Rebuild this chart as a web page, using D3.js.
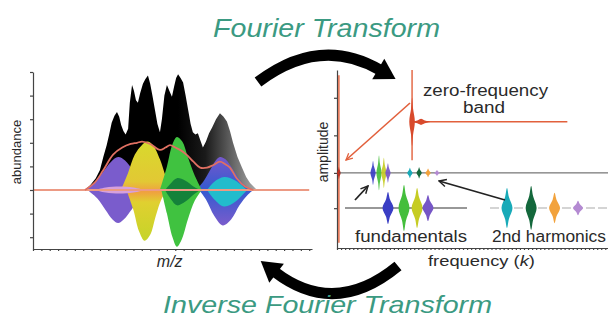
<!DOCTYPE html>
<html lang="en">
<head>
<meta charset="UTF-8">
<title>Fourier Transform</title>
<style>
  body { margin: 0; background: #fff; }
  svg { display: block; font-family: "Liberation Sans", Arial, sans-serif; }
</style>
</head>
<body>
<svg id="svg" width="608" height="318"></svg>
<script src="https://d3js.org/d3.v7.min.js"></script>
<script>
// ---- left panel: m/z spectrum, [m/z, abundance] (arbitrary units)
const envelopeBlack = [[18.6,0],[20.5,.04],[22.5,.1],[24,.17],[25.2,.28],[26.4,.38],[27.3,.47],[28.2,.57],[29.2,.63],[30.1,.66],[30.9,.62],[31.6,.55],[32.4,.5],[33.2,.47],[34.1,.52],[34.7,.74],[35.5,.89],[36.2,.84],[36.9,.76],[37.6,.74],[38.4,.82],[39.4,.9],[40.3,.94],[41.2,.97],[42,.9],[42.8,.8],[43.7,.68],[44.6,.56],[45.5,.49],[46.2,.6],[47.1,.8],[48,.89],[48.9,.84],[49.8,.79],[50.6,.88],[51.3,.95],[52,.98],[52.9,.95],[53.8,.91],[54.7,.8],[55.6,.68],[56.5,.56],[57.3,.49],[58.2,.47],[59.1,.48],[60,.42],[60.9,.36],[62,.41],[63.1,.48],[64.2,.53],[65.6,.6],[67,.65],[68.3,.62],[69.5,.58],[70.6,.5],[71.7,.4],[73.3,.28],[74.9,.19],[76.4,.11],[77.8,.06],[80.3,0]]
const envelopeSum = [[18.6,0],[22,.06],[25,.16],[28.7,.3],[32,.36],[35,.39],[37.3,.4],[39.1,.41],[42,.39],[45.5,.34],[47.5,.36],[49.1,.38],[51,.36],[52.7,.34],[55,.3],[57.5,.24],[59.9,.19],[62.4,.19],[64.5,.21],[67,.24],[68.8,.22],[70.6,.19],[73,.1],[76,.03],[79,0]]
const purpleTop = [[18.6,0],[22,.06],[25,.15],[28,.24],[30.5,.28],[33,.25],[36,.16],[39.5,.06],[42.7,0]]
const purpleBottom = [[19.5,0],[23,-.07],[26,-.17],[28.5,-.25],[30.5,-.28],[32.5,-.25],[35.5,-.16],[38.5,-.06],[41,0]]
const yellowTop = [[31.5,0],[34,.14],[36.5,.3],[39,.38],[41,.41],[43,.38],[45.5,.26],[47.5,.12],[49.5,0]]
const yellowBottom = [[33.5,0],[36,-.17],[38,-.35],[40,-.43],[42,-.38],[44,-.22],[46,-.08],[48,0]]
const greenTop = [[45.5,0],[48,.2],[50,.39],[51.6,.45],[53.5,.41],[55.5,.28],[58,.12],[60.5,0]]
const greenBottom = [[46,0],[48,-.2],[50,-.4],[51.6,-.48],[53.3,-.42],[55.5,-.25],[58,-.09],[60.5,0]]
const blueTop = [[58.5,0],[61,.07],[63.5,.17],[65.5,.25],[67,.28],[69,.26],[72,.16],[75,.06],[78.5,0]]
const blueBottom = [[59.5,0],[62,-.08],[65,-.22],[68,-.3],[71,-.25],[74,-.13],[77,-.04],[79,0]]
// inner cores: [m/z, upper, lower]
const purpleCore = [[22.2,0,0],[26,.022,-.022],[31,.03,-.03],[36,.022,-.022],[40.1,0,0]]
const greenCore = [[47.3,0,0],[49.5,.06,-.08],[51.6,.1,-.13],[54.5,.08,-.1],[57.5,.03,-.04],[59.9,0,0]]
const cyanCore = [[62.4,0,0],[65,.07,-.08],[68.5,.11,-.14],[72.5,.08,-.1],[76.7,0,0]]

// ---- right panel: frequency spectrum
const fundFreq = [13.3, 15.5, 17.3, 18.8]
const fundAmp = [0.16, 0.23, 0.20, 0.13]
const fundColors = ['#3a3ec4', '#44be3c', '#c6cc24', '#7656c6']
const harmFreq = [26.9, 30.3, 33.6, 36.9]
const harmAmp = [0.05, 0.055, 0.038, 0.018]
const harmColors = ['#18aab8', '#14683c', '#f2a23c', '#b48ad2']
const zeroFreq = 0.7
const bandFreq = 27.7

const teal = '#3b9a82'
const ink = '#2a2a2a'
const red = '#e2603c'

const svg = d3.select('#svg')
const defs = svg.append('defs')

// scales
const xM = d3.scaleLinear().domain([0, 100]).range([33, 312])
const yM = d3.scaleLinear().domain([-0.5, 1]).range([249, 72])
const xF = d3.scaleLinear().domain([0, 100]).range([337, 608])
const yA = d3.scaleLinear().domain([-1, 1.37]).range([248, 70])
// zoomed insets under the midline
const xFund = d3.scaleLinear().domain([13.3, 18.8]).range([388, 428])
const yFund = d3.scaleLinear().domain([-0.3, 0.3]).range([238, 178])
const xHarm = d3.scaleLinear().domain([26.9, 36.9]).range([507, 578])
const yHarm = d3.scaleLinear().domain([-0.06, 0.06]).range([232, 184])

// gradients
const gBlack = defs.append('linearGradient').attr('id', 'gBlack')
  .attr('gradientUnits', 'userSpaceOnUse').attr('x1', xM(52)).attr('x2', xM(80)).attr('y1', 0).attr('y2', 0)
;[[0, '#000'], [0.35, '#1a1a1a'], [0.6, '#505050'], [1, '#a8a8a8']].forEach(s =>
  gBlack.append('stop').attr('offset', s[0]).attr('stop-color', s[1]))
const gYellow = defs.append('linearGradient').attr('id', 'gYellow')
  .attr('gradientUnits', 'userSpaceOnUse').attr('x1', 0).attr('x2', 0).attr('y1', yM(0.42)).attr('y2', yM(-0.45))
;[[0, '#d8da2c'], [0.4, '#e2c834'], [0.5, '#f0a040'], [0.6, '#e0d030'], [1, '#c4d428']].forEach(s =>
  gYellow.append('stop').attr('offset', s[0]).attr('stop-color', s[1]))
const gBlue = defs.append('linearGradient').attr('id', 'gBlue')
  .attr('gradientUnits', 'userSpaceOnUse').attr('x1', 0).attr('x2', 0).attr('y1', yM(0.3)).attr('y2', yM(-0.3))
;[[0, '#7a58cc'], [0.45, '#3a5ad0'], [0.55, '#3a5ad0'], [1, '#7a5ccc']].forEach(s =>
  gBlue.append('stop').attr('offset', s[0]).attr('stop-color', s[1]))

// ---- left panel
const areaCore = d3.area().curve(d3.curveCatmullRom).x(d => xM(d[0])).y0(d => yM(d[2])).y1(d => yM(d[1]))
const smooth = d3.area().curve(d3.curveCatmullRom).x(d => xM(d[0])).y0(yM(0)).y1(d => yM(d[1]))

svg.append('path').attr('d', d3.area().x(d => xM(d[0])).y0(yM(0)).y1(d => yM(d[1]))(envelopeBlack))
  .attr('fill', 'url(#gBlack)')

const comps = [
  [purpleTop, purpleBottom, '#7a5ccc'],
  [yellowTop, yellowBottom, 'url(#gYellow)'],
  [blueTop, blueBottom, 'url(#gBlue)'],
  [greenTop, greenBottom, '#40c240']
]
comps.forEach(c => {
  svg.append('path').attr('d', smooth(c[0])).attr('fill', c[2])
  svg.append('path').attr('d', smooth(c[1])).attr('fill', c[2])
})
svg.append('path').attr('d', areaCore(purpleCore)).attr('fill', '#d6a0dc')
svg.append('path').attr('d', areaCore(greenCore)).attr('fill', '#14823a')
svg.append('path').attr('d', areaCore(cyanCore)).attr('fill', '#22bccc')

// baseline + summed envelope
svg.append('line').attr('x1', xM(0)).attr('x2', xM(99)).attr('y1', yM(0)).attr('y2', yM(0))
  .attr('stroke', '#ec9a84').attr('stroke-width', 2)
svg.append('path').attr('d', d3.line().curve(d3.curveCatmullRom).x(d => xM(d[0])).y(d => yM(d[1]))(envelopeSum))
  .attr('fill', 'none').attr('stroke', '#e07062').attr('stroke-width', 1.8)

// left axes
const axL = svg.append('g').attr('transform', `translate(${xM(0)},0)`)
  .call(d3.axisLeft(yM).tickValues(d3.range(-0.4, 1.01, 0.2)).tickSize(3).tickSizeOuter(0).tickFormat(''))
const axB = svg.append('g').attr('transform', `translate(0,${yM(-0.5)})`)
  .call(d3.axisBottom(xM).tickValues(d3.range(0, 101, 3)).tickSize(2).tickSizeOuter(0).tickFormat(''))
;[axL, axB].forEach(a => a.selectAll('path,line').attr('stroke', '#444').attr('stroke-width', 1.2))

svg.append('text').attr('transform', `translate(21,152) rotate(-90)`).attr('text-anchor', 'middle')
  .attr('font-size', 13).attr('fill', ink).text('abundance')
svg.append('text').attr('x', xM(49)).attr('y', 267).attr('text-anchor', 'middle')
  .attr('font-size', 16).attr('font-style', 'italic').attr('fill', ink).text('m/z')

// ---- right panel
const spindle = (cx, cy, hh, hw) => d3.line().curve(d3.curveCatmullRomClosed)([
  [cx, cy - hh], [cx + hw * 0.35, cy - hh * 0.55], [cx + hw, cy], [cx + hw * 0.35, cy + hh * 0.55],
  [cx, cy + hh], [cx - hw * 0.35, cy + hh * 0.55], [cx - hw, cy], [cx - hw * 0.35, cy - hh * 0.55]])

// right axes
const axR = svg.append('g').attr('transform', `translate(${xF(0)},0)`)
  .call(d3.axisLeft(yA).tickValues([-0.47, 0, 0.5, 1]).tickSize(3).tickSizeOuter(0).tickFormat(''))
const axRB = svg.append('g').attr('transform', `translate(0,${yA(-1)})`)
  .call(d3.axisBottom(xF).tickValues(d3.range(0, 101, 1.5)).tickSize(2).tickSizeOuter(0).tickFormat(''))
;[axR, axRB].forEach(a => a.selectAll('path,line').attr('stroke', '#444').attr('stroke-width', 1.2))

// zero-frequency line at the axis
svg.append('line').attr('x1', xF(zeroFreq)).attr('x2', xF(zeroFreq)).attr('y1', yA(1.3)).attr('y2', yA(-0.93))
  .attr('stroke', red).attr('stroke-width', 1.4)
svg.append('path').attr('d', spindle(xF(zeroFreq), yA(0), 6, 1.8)).attr('fill', '#c03020')

// midline
svg.append('line').attr('x1', xF(zeroFreq)).attr('x2', xF(100)).attr('y1', yA(0)).attr('y2', yA(0))
  .attr('stroke', '#555').attr('stroke-width', 1)

// spectral peaks on the midline
fundFreq.forEach((f, i) => {
  svg.append('path').attr('d', spindle(xF(f), yA(0), yA(0) - yA(fundAmp[i]), 2.6)).attr('fill', fundColors[i]).attr('opacity', 0.92)
})
harmFreq.forEach((f, i) => {
  const hh = Math.max(3, yA(0) - yA(harmAmp[i]) + 1.5)
  svg.append('path').attr('d', spindle(xF(f), yA(0), hh, 2.6)).attr('fill', harmColors[i])
})

// zero-frequency band (enlarged)
const bandY = yA(0.68)
svg.append('line').attr('x1', xF(bandFreq)).attr('x2', xF(bandFreq)).attr('y1', yA(1.37)).attr('y2', yA(0.17))
  .attr('stroke', red).attr('stroke-width', 1.4)
svg.append('line').attr('x1', xF(bandFreq)).attr('x2', xF(85)).attr('y1', bandY).attr('y2', bandY)
  .attr('stroke', red).attr('stroke-width', 1.4)
svg.append('path').attr('d', spindle(xF(bandFreq), bandY, 24, 2.8)).attr('fill', '#d84a2c')
svg.append('path').attr('d', spindle(xF(bandFreq) + 9, bandY, 3, 9)).attr('fill', '#d84a2c')

// fundamentals inset
svg.append('line').attr('x1', 345).attr('x2', 467).attr('y1', yFund(0)).attr('y2', yFund(0))
  .attr('stroke', '#333').attr('stroke-width', 1.2)
fundFreq.forEach((f, i) => {
  svg.append('path').attr('d', spindle(xFund(f), yFund(0), yFund(0) - yFund(fundAmp[i]), 5.5)).attr('fill', fundColors[i])
})
// 2nd harmonics inset
svg.append('line').attr('x1', 490).attr('x2', 608).attr('y1', yHarm(0)).attr('y2', yHarm(0))
  .attr('stroke', '#aaa').attr('stroke-width', 1.2).attr('stroke-dasharray', '9 3')
harmFreq.forEach((f, i) => {
  svg.append('path').attr('d', spindle(xHarm(f), yHarm(0), yHarm(0) - yHarm(harmAmp[i]), i === 3 ? 5 : 5.5)).attr('fill', harmColors[i])
})

// annotation arrows
const mk = (id, col) => defs.append('marker').attr('id', id).attr('viewBox', '0 0 10 10').attr('refX', 9).attr('refY', 5)
  .attr('markerWidth', 5).attr('markerHeight', 5).attr('orient', 'auto-start-reverse')
  .append('path').attr('d', 'M1,1 L9,5 L1,9').attr('fill', 'none').attr('stroke', col).attr('stroke-width', 1.6)
mk('hRed', red)
mk('hBlk', '#222')
svg.append('line').attr('x1', 410).attr('y1', 103).attr('x2', 346).attr('y2', 160)
  .attr('stroke', red).attr('stroke-width', 1.6).attr('marker-end', 'url(#hRed)')
svg.append('line').attr('x1', 355).attr('y1', 200).attr('x2', 368).attr('y2', 186)
  .attr('stroke', '#222').attr('stroke-width', 1.8).attr('marker-end', 'url(#hBlk)')
svg.append('line').attr('x1', 505).attr('y1', 200).attr('x2', 439).attr('y2', 181)
  .attr('stroke', '#222').attr('stroke-width', 1.8).attr('marker-end', 'url(#hBlk)')

// labels stretched to the reference widths
const label = (x, y, size, len, str) => svg.append('text').attr('x', x).attr('y', y).attr('font-size', size)
  .attr('textLength', len).attr('lengthAdjust', 'spacingAndGlyphs').attr('fill', ink).text(str)

label(423, 96, 16, 125, 'zero-frequency')
label(463, 113, 16, 42, 'band')
label(355, 242, 16, 112, 'fundamentals')
label(492, 242, 16, 114, '2nd harmonics')
svg.append('text').attr('transform', `translate(328,152) rotate(-90)`).attr('text-anchor', 'middle')
  .attr('font-size', 14).attr('fill', ink).text('amplitude')
const fq = svg.append('text').attr('x', 428).attr('y', 266).attr('font-size', 15).attr('fill', ink)
  .attr('textLength', 107).attr('lengthAdjust', 'spacingAndGlyphs')
fq.append('tspan').text('frequency (')
fq.append('tspan').attr('font-style', 'italic').text('k')
fq.append('tspan').text(')')

// ---- transform arrows
const arrow = (p0, p1, p2) => {
  const path = d3.path()
  path.moveTo(p0[0], p0[1]); path.quadraticCurveTo(p1[0], p1[1], p2[0], p2[1])
  svg.append('path').attr('d', path.toString()).attr('fill', 'none').attr('stroke', '#000').attr('stroke-width', 11)
  const dx = p2[0] - p1[0], dy = p2[1] - p1[1], n = Math.hypot(dx, dy)
  const ux = dx / n, uy = dy / n
  svg.append('path').attr('d', d3.line()([
    [p2[0] - ux * 2 - uy * 12, p2[1] - uy * 2 + ux * 12],
    [p2[0] + ux * 18, p2[1] + uy * 18],
    [p2[0] - ux * 2 + uy * 12, p2[1] - uy * 2 - ux * 12]]) + 'Z').attr('fill', '#000')
}
arrow([258, 82], [320, 35], [380, 70])
arrow([398, 266], [335, 318], [275, 272])

// titles
svg.append('text').attr('x', 213).attr('y', 37).attr('font-size', 25).attr('font-style', 'italic')
  .attr('textLength', 227).attr('lengthAdjust', 'spacingAndGlyphs').attr('fill', teal).text('Fourier Transform')
svg.append('text').attr('x', 163).attr('y', 313).attr('font-size', 24).attr('font-style', 'italic')
  .attr('textLength', 329).attr('lengthAdjust', 'spacingAndGlyphs').attr('fill', teal).text('Inverse Fourier Transform')
</script>
</body>
</html>
